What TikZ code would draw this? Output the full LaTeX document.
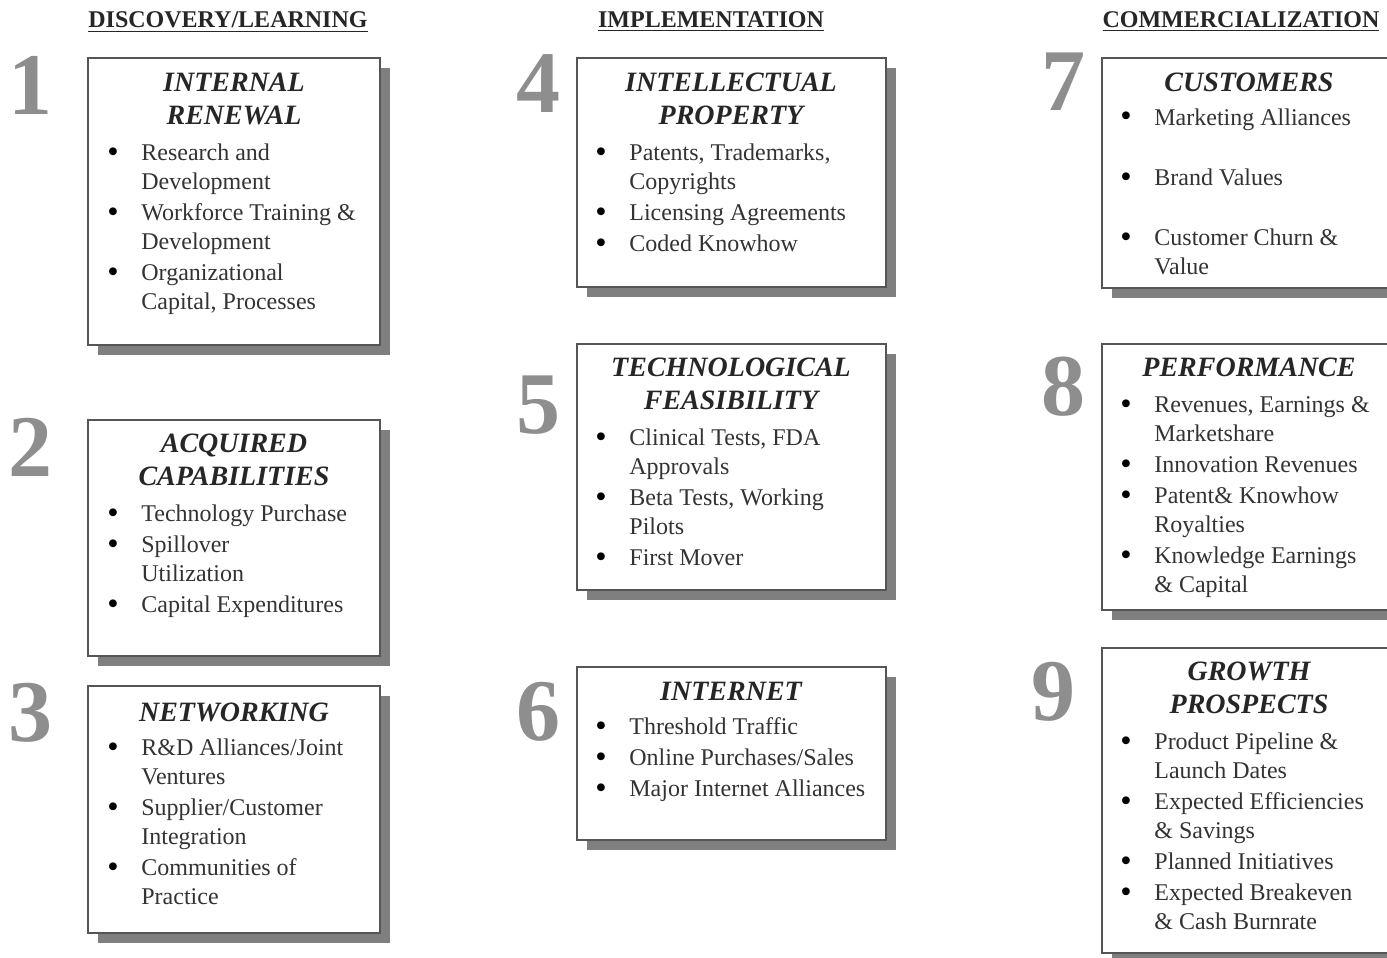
\documentclass[tikz,border=0pt]{standalone}
\usepackage{fontspec}
\setmainfont{Liberation Serif}
\usetikzlibrary{positioning,fit,shadows}
\definecolor{ink}{HTML}{333333}
\definecolor{frame}{HTML}{555555}
\definecolor{shade}{HTML}{7F7F7F}
\definecolor{digit}{HTML}{8E8E8E}
\newenvironment{bullets}{\begin{tabular}[t]{@{}l@{}l@{}}}{\end{tabular}}
\newcommand{\dotmark}{\makebox[17pt][l]{\raisebox{-1pt}{\scalebox{1.35}{\color{black}\textbullet}}}}

\begin{document}
\begin{tikzpicture}[x=0.5pt, y=-0.5pt,
  card/.style={draw=frame, line width=0.9pt, fill=white, inner sep=0pt,
    drop shadow={shadow xshift=5pt, shadow yshift=-5pt, fill=shade, opacity=1}},
  head/.style={font=\fontsize{12}{14}\selectfont\bfseries, text=black!85, inner sep=0pt},
  title/.style={font=\fontsize{14}{16.5}\selectfont\bfseries\itshape, align=center,
    text=black!85, inner sep=0pt},
  list/.style={font=\fontsize{12}{14.5}\selectfont, text=ink, anchor=base west, inner sep=0pt},
  digit/.style={font=\fontsize{44}{44}\selectfont\bfseries, text=digit, inner sep=0pt}]
  \clip (0,0) rectangle (1387,958);

  % column heads
  \node[head] (hd1) at (228,22) {\underline{DISCOVERY/LEARNING}};
  \node[head] (hd2) at (711,22) {\underline{IMPLEMENTATION}};
  \node[head] (hd3) at (1241,22) {\underline{COMMERCIALIZATION}};

  % cards
  \node[card, fit={(88,58) (380,345)}] (c1) {};
  \node[card, fit={(88,420) (380,656)}] (c2) {};
  \node[card, fit={(88,686) (380,933)}] (c3) {};
  \node[card, fit={(577,58) (886,287)}] (c4) {};
  \node[card, fit={(577,344) (886,590)}] (c5) {};
  \node[card, fit={(577,667) (886,840)}] (c6) {};
  \node[card, fit={(1102,58) (1395,288)}] (c7) {};
  \node[card, fit={(1102,344) (1395,610)}] (c8) {};
  \node[card, fit={(1102,648) (1395,953)}] (c9) {};

  % numbers
  \foreach \n/\x/\y in {1/31/85, 2/31/447, 3/31/713, 4/538/84, 5/538/405,
      6/538/712, 7/1063/82, 8/1063/387, 9/1053/692}
    \node[digit] (d\n) at (\x,\y) {\n};

  % discovery / learning
  \node[title] (t1) at (234,98.5) {INTERNAL\\RENEWAL};
  \node[list] (l1) at (107,160) {\begin{bullets}
    \dotmark & Research and\\ & Development\\[1pt]
    \dotmark & Workforce Training \&\\ & Development\\[1pt]
    \dotmark & Organizational\\ & Capital, Processes
  \end{bullets}};
  \node[title] (t2) at (234,459.5) {ACQUIRED\\CAPABILITIES};
  \node[list] (l2) at (107,521) {\begin{bullets}
    \dotmark & Technology Purchase\\[1pt]
    \dotmark & Spillover\\ & Utilization\\[1pt]
    \dotmark & Capital Expenditures
  \end{bullets}};
  \node[title] (t3) at (234,712) {NETWORKING};
  \node[list] (l3) at (107,755) {\begin{bullets}
    \dotmark & R\&D Alliances/Joint\\ & Ventures\\[1pt]
    \dotmark & Supplier/Customer\\ & Integration\\[1pt]
    \dotmark & Communities of\\ & Practice
  \end{bullets}};

  % implementation
  \node[title] (t4) at (731,98.5) {INTELLECTUAL\\PROPERTY};
  \node[list] (l4) at (595,160) {\begin{bullets}
    \dotmark & Patents, Trademarks,\\ & Copyrights\\[1pt]
    \dotmark & Licensing Agreements\\[1pt]
    \dotmark & Coded Knowhow
  \end{bullets}};
  \node[title] (t5) at (731,383.5) {TECHNOLOGICAL\\FEASIBILITY};
  \node[list] (l5) at (595,445) {\begin{bullets}
    \dotmark & Clinical Tests, FDA\\ & Approvals\\[1pt]
    \dotmark & Beta Tests, Working\\ & Pilots\\[1pt]
    \dotmark & First Mover
  \end{bullets}};
  \node[title] (t6) at (731,691) {INTERNET};
  \node[list] (l6) at (595,734) {\begin{bullets}
    \dotmark & Threshold Traffic\\[1pt]
    \dotmark & Online Purchases/Sales\\[1pt]
    \dotmark & Major Internet Alliances
  \end{bullets}};

  % commercialization
  \node[title] (t7) at (1249,82) {CUSTOMERS};
  \node[list] (l7) at (1120,125) {\begin{bullets}
    \dotmark & Marketing Alliances\\[15.5pt]
    \dotmark & Brand Values\\[15.5pt]
    \dotmark & Customer Churn \&\\ & Value
  \end{bullets}};
  \node[title] (t8) at (1249,367) {PERFORMANCE};
  \node[list] (l8) at (1120,412) {\begin{bullets}
    \dotmark & Revenues, Earnings \&\\ & Marketshare\\[1pt]
    \dotmark & Innovation Revenues\\[1pt]
    \dotmark & Patent\& Knowhow\\ & Royalties\\[1pt]
    \dotmark & Knowledge Earnings\\ & \& Capital
  \end{bullets}};
  \node[title] (t9) at (1249,688) {GROWTH\\PROSPECTS};
  \node[list] (l9) at (1120,749) {\begin{bullets}
    \dotmark & Product Pipeline \&\\ & Launch Dates\\[1pt]
    \dotmark & Expected Efficiencies\\ & \& Savings\\[1pt]
    \dotmark & Planned Initiatives\\[1pt]
    \dotmark & Expected Breakeven\\ & \& Cash Burnrate
  \end{bullets}};
\end{tikzpicture}
\end{document}
